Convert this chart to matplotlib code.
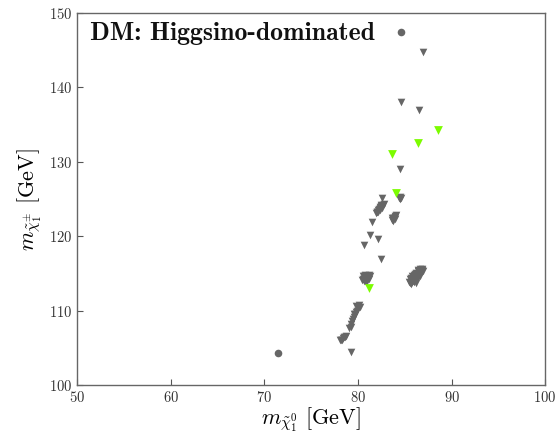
import matplotlib
matplotlib.use("Agg")
import matplotlib.pyplot as plt

plt.rcParams['mathtext.fontset'] = 'cm'
plt.rcParams['font.family'] = ['cmr10', 'DejaVu Serif']
plt.rcParams['axes.formatter.use_mathtext'] = True

# --- data ---
circle_x = [71.45, 84.6]
circle_y = [104.3, 147.5]

tri_gray_x = [
    86.9, 84.55, 86.5, 84.45, 82.52, 81.51, 81.26, 82.15, 80.65, 82.5, 79.2,
    # upper-left elongated cluster
    81.9, 82.0, 82.1, 82.2, 82.3, 82.4, 82.5, 82.6, 82.7, 82.8, 82.15, 82.35, 82.55, 82.0, 82.45,
    # cluster near 84, 122.5
    83.6, 83.7, 83.8, 83.9, 84.0, 84.05, 83.75, 83.9, 83.65,
    # cluster near 84.5, 125
    84.4, 84.5, 84.5, 84.6,
    # cluster near 81, 114
    80.5, 80.6, 80.7, 80.8, 80.9, 81.0, 81.1, 81.2, 81.3, 80.6, 80.9,
    80.5, 80.7, 81.0, 81.2, 80.4, 80.8,
    # big cluster near 86, 114.5
    85.5, 85.6, 85.7, 85.8, 85.8, 85.9, 86.0, 86.1, 86.2, 86.3, 86.4, 86.5, 86.6,
    86.7, 86.8, 86.85, 86.6, 86.75, 86.4, 86.2, 86.0, 85.7, 86.5, 86.3,
    85.8, 86.1, 86.4, 85.7, 86.0, 86.3, 86.6, 85.6, 86.9, 86.2,
    # column near 79.7, 109
    80.2, 80.0, 79.9, 79.8, 79.7, 79.6, 79.5, 79.4, 79.3, 79.2, 80.1, 79.8, 79.0, 79.6,
    # cluster near 78.4, 106.3
    78.1, 78.2, 78.4, 78.6, 78.7, 78.3, 78.5,
]
tri_gray_y = [
    144.8, 138.0, 137.0, 129.1, 125.1, 121.95, 120.16, 119.58, 118.82, 116.9, 104.5,
    123.1, 123.3, 123.5, 123.6, 123.8, 123.9, 124.0, 124.1, 124.2, 124.3, 123.2, 123.5, 123.8, 123.3, 124.2,
    122.2, 122.4, 122.5, 122.6, 122.7, 122.8, 122.1, 122.3, 122.5,
    125.1, 125.0, 125.3, 125.2,
    114.3, 114.0, 114.5, 114.2, 113.9, 114.6, 114.4, 114.8, 114.7, 114.6, 114.3,
    114.7, 114.0, 114.0, 114.3, 114.1, 114.8,
    113.9, 113.7, 113.6, 114.2, 113.8, 114.0, 114.4, 114.2, 114.6, 114.4, 114.9, 114.7, 115.2,
    115.0, 115.5, 115.6, 115.6, 115.3, 115.3, 115.0, 114.8, 114.1, 115.0, 114.7,
    114.6, 114.9, 115.4, 114.4, 113.9, 114.2, 114.6, 114.2, 115.3, 113.7,
    110.5, 110.3, 110.0, 109.8, 109.5, 109.2, 108.9, 108.6, 108.2, 107.8, 110.7, 110.6, 107.6, 109.6,
    106.0, 106.1, 106.3, 106.5, 106.6, 106.0, 106.4,
]
tri_green_x = [88.6, 86.4, 83.65, 84.05, 81.15]
tri_green_y = [134.3, 132.6, 131.0, 125.8, 113.0]

xticks = [50, 60, 70, 80, 90, 100]
yticks = [100, 110, 120, 130, 140, 150]

fig = plt.figure(figsize=(5.58, 4.37), dpi=100)
ax = fig.add_axes([0.1385, 0.119, 0.8385, 0.851])

gray = '#666666'
green = '#7CFC00'
ax.scatter(tri_gray_x, tri_gray_y, marker='v', s=30, c=gray, linewidths=0, zorder=3)
ax.scatter(tri_green_x, tri_green_y, marker='v', s=40, c=green, linewidths=0, zorder=4)
ax.scatter(circle_x, circle_y, marker='o', s=30, c=gray, linewidths=0, zorder=3)

ax.set_xlim(50, 100)
ax.set_ylim(100, 150)
ax.set_xticks(xticks)
ax.set_yticks(yticks)
ax.tick_params(direction='in', length=4, width=0.8, colors='#555555',
               labelsize=10.5, labelcolor='#333333', top=False, right=False)
for sp in ax.spines.values():
    sp.set_color('#666666')
    sp.set_linewidth(1.0)

ax.set_xlabel(r'$m_{\tilde{\chi}_1^0}\ [\mathrm{GeV}]$', fontsize=16, labelpad=0)
ax.set_ylabel(r'$m_{\tilde{\chi}_1^{\pm}}\ [\mathrm{GeV}]$', fontsize=16, labelpad=4)

ax.text(51.35, 147.3, 'DM: Higgsino-dominated', family=['cmb10', 'DejaVu Serif'],
        fontsize=18.5, va='center', ha='left', color='#111111')

fig.savefig('out.png', dpi=100)
